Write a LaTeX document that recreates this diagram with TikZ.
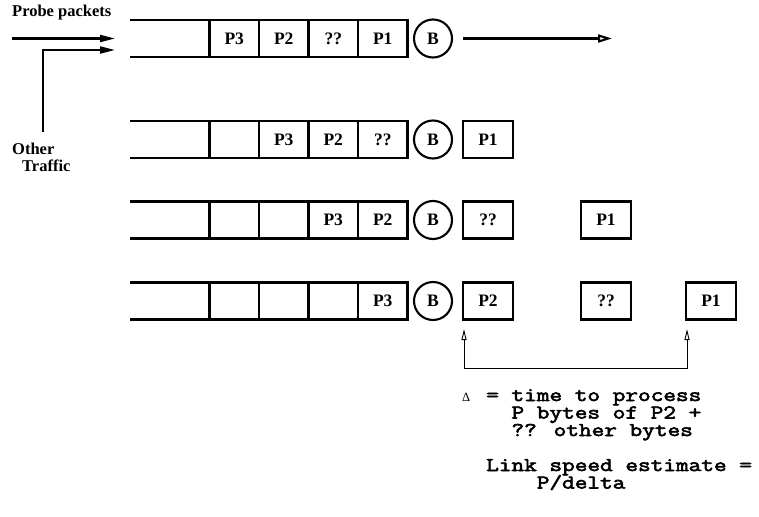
\documentclass[tikz,border=0pt]{standalone}
\usepackage{fontspec}
\setmainfont{Liberation Serif}
\newfontfamily\courfont[FakeStretch=1.26,FakeBold=3]{Latin Modern Mono}
\usetikzlibrary{arrows.meta}
\begin{document}
\begin{tikzpicture}[x=1pt,y=-1pt,
  ql/.style={line width=2.1pt},
  cell/.style={draw,line width=2.1pt,minimum width=49.5pt,minimum height=37pt,inner sep=0pt,outer sep=0pt,font=\fontsize{17.5}{17.5}\selectfont\bfseries},
  pkt/.style={draw,line width=2.1pt,minimum width=50pt,minimum height=37pt,inner sep=0pt,outer sep=0pt,font=\fontsize{17.5}{17.5}\selectfont\bfseries},
  srv/.style={draw,circle,line width=2.1pt,minimum size=38pt,inner sep=0pt,outer sep=0pt,font=\fontsize{17.5}{17.5}\selectfont\bfseries},
  lbl/.style={font=\fontsize{16.5}{16.5}\selectfont\bfseries,inner sep=0pt,anchor=base west},
  mono/.style={font=\courfont\fontsize{19.5}{19.5}\selectfont,inner sep=0pt,anchor=base west},
  fillhead/.style={-{Triangle[length=15pt,width=7pt]}},
  openhead/.style={-{Triangle[open,length=14pt,width=8pt]}},
  thinhead/.style={{Triangle[open,length=11pt,width=5pt]}-{Triangle[open,length=11pt,width=5pt]}}
]
\useasboundingbox (0,0) rectangle (759,516);

% queues
\foreach \r/\y/\a/\b/\c/\d in {1/38.5/P3/P2/??/P1, 2/139.5/{}/P3/P2/??, 3/220/{}/{}/P3/P2, 4/301/{}/{}/{}/P3} {
  \node[cell] (q\r a) at (234.25,\y) {\a};
  \node[cell] (q\r b) at (283.75,\y) {\b};
  \node[cell] (q\r c) at (333.25,\y) {\c};
  \node[cell] (q\r d) at (382.75,\y) {\d};
  \node[srv] (b\r) at (433,\y) {B};
  \draw[ql] (130,\y-18.5) -- (q\r a.north west);
  \draw[ql] (130,\y+18.5) -- (q\r a.south west);
}

% packets leaving
\node[pkt] (x2a) at (488,139.5) {P1};
\node[pkt] (x3a) at (488,220) {??};
\node[pkt] (x3b) at (606,220) {P1};
\node[pkt] (x4a) at (488,301) {P2};
\node[pkt] (x4b) at (606,301) {??};
\node[pkt] (x4c) at (711,301) {P1};

% input arrows
\node[lbl] (probe) at (12,17) {Probe packets};
\node[lbl] (other) at (12,154) {Other};
\node[lbl] (traffic) at (22,171) {Traffic};
\coordinate (pin) at (12,38.5);
\coordinate (qin1) at (115,38.5);
\coordinate (oin) at (43,132);
\coordinate (qin2) at (115,50);
\draw[ql,fillhead] (pin) -- (qin1);
\draw[ql,fillhead] (oin) |- (qin2);

% output arrow
\coordinate (outend) at (612,38.5);
\draw[ql,openhead] ([xshift=11pt]b1.east) -- (outend);

% delta bracket
\coordinate (t1) at (464,329);
\coordinate (t2) at (687,329);
\coordinate (u1) at (464,368);
\coordinate (u2) at (687,368);
\draw[line width=0.9pt,thinhead] (t1) -- (u1) -- (u2) -- (t2);

% explanation
\node[anchor=base west,inner sep=0pt,font=\fontsize{12.5}{12.5}\selectfont] (delta) at (462,401) {Δ};
\node[mono] (m1) at (486,401) {= time to process};
\node[mono] (m2) at (486,418.5) {\hphantom{xx}P bytes of P2 +};
\node[mono] (m3) at (486,436) {\hphantom{xx}?? other bytes};
\node[mono] (m4) at (486,471) {Link speed estimate =};
\node[mono] (m5) at (486,488.5) {\hphantom{xxxx}P/delta};
\end{tikzpicture}
\end{document}
